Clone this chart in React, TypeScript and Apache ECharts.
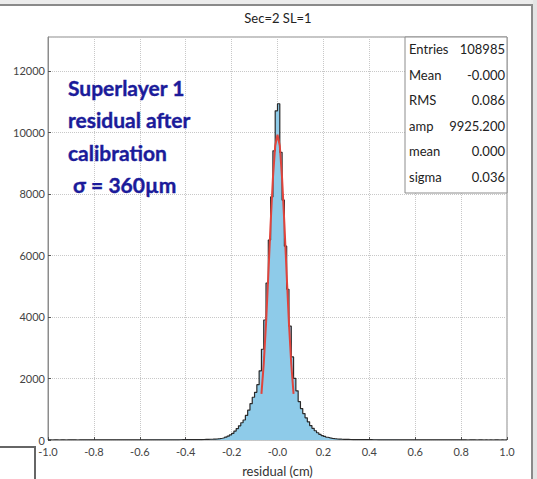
import React, { useEffect, useRef } from "react";
import * as echarts from "echarts";

// ---- data ----
const title = "Sec=2 SL=1";
const xName = "residual (cm)";
const binStart = -1.0;
const binWidth = 0.01;
// counts per bin (200 bins from -1.00 to 1.00)
const countsLeftTail = [
  1, 0, 1, 1, 0, 1, 1, 0, 1, 1, 1, 1, 0, 1, 1, 2, 1, 1, 1, 2,
  1, 2, 1, 2, 2, 1, 2, 2, 3, 2, 2, 3, 2, 3, 3, 3, 4, 3, 4, 4,
  4, 4, 5, 4, 5, 5, 5, 6, 5, 6, 6, 7, 6, 7, 7, 8, 7, 8, 9, 9,
];
const countsCoreLeft = [
  10, 11, 11, 12, 13, 14, 15, 17, 19, 21, 24, 27, 31, 37, 45, 57, 72, 95, 125, 165,
  215, 290, 370, 460, 560, 650, 800, 970, 1180, 1390, 1550, 1800, 2250, 2950, 3900, 5100, 6500, 7900, 9400, 10700,
];
const countsCoreRight = [
  10930, 9350, 7800, 6300, 4900, 3700, 2700, 2000, 1600, 1250, 1020, 860, 720, 590, 470, 380, 300, 235, 180, 145,
  115, 90, 70, 55, 44, 36, 30, 26, 23, 20, 18, 16, 15, 14, 13, 12, 11, 10, 10, 9,
];
const countsRightTail = [
  9, 8, 8, 7, 7, 6, 6, 6, 5, 5, 5, 5, 4, 4, 4, 4, 3, 4, 3, 3,
  3, 3, 2, 3, 2, 2, 2, 2, 2, 1, 2, 1, 2, 1, 1, 1, 2, 1, 1, 1,
  1, 1, 0, 1, 1, 1, 0, 1, 1, 0, 1, 0, 1, 0, 1, 1, 0, 1, 0, 1,
];
const fitX = [-0.07, -0.06, -0.05, -0.04, -0.03, -0.02, -0.01, 0, 0.01, 0.02, 0.03, 0.04, 0.05, 0.06, 0.07];
const fitY = [1500, 2470, 3780, 5370, 7030, 8510, 9560, 9925, 9560, 8510, 7030, 5370, 3780, 2470, 1500];
const statsLabels = ["Entries", "Mean", "RMS", "amp", "mean", "sigma"];
const statsValues = ["108985", "-0.000", "0.086", "9925.200", "0.000", "0.036"];
const noteLines = ["Superlayer 1", "residual after", "calibration", " \u03c3 = 360\u00b5m"];

const FONT = "Lato, 'Open Sans', sans-serif";

export default function App() {
  const ref = useRef<HTMLDivElement>(null);
  useEffect(() => {
    document.body.style.margin = "0";
    if (!ref.current) return;
    const chart = echarts.init(ref.current, undefined, { renderer: "svg" });
    const counts = [...countsLeftTail, ...countsCoreLeft, ...countsCoreRight, ...countsRightTail];
    const histData: number[][] = counts.map((c, i) => [+(binStart + i * binWidth).toFixed(2), c]);
    histData.push([1.0, counts[counts.length - 1]]);
    const fitData = fitX.map((x, i) => [x, fitY[i]]);

    const boxX = 405, boxY = 37, boxW = 102, rowH = 25.5;
    const statsEls: any[] = [
      { type: "rect", z: 20, shape: { x: boxX, y: boxY, width: boxW, height: rowH * 6 + 3 }, style: { fill: "#fff", stroke: "#8c8c8c", lineWidth: 1 } },
    ];
    statsLabels.forEach((l, i) => {
      statsEls.push({ type: "text", z: 21, x: boxX + 4, y: boxY + 12 + i * rowH, style: { text: l, fill: "#222", fontSize: 13, fontFamily: FONT, textAlign: "left", textVerticalAlign: "middle" } });
      statsEls.push({ type: "text", z: 21, x: boxX + boxW - 2, y: boxY + 12 + i * rowH, style: { text: statsValues[i], fill: "#222", fontSize: 13, fontFamily: FONT, textAlign: "right", textVerticalAlign: "middle" } });
    });
    const noteEls = noteLines.map((t, i) => ({
      type: "text", z: 21, x: 68, y: 87 + i * 32.5,
      style: { text: t, fill: "#1b1b9a", fontSize: 21, fontWeight: "bold", fontFamily: FONT, textAlign: "left", textVerticalAlign: "middle", stroke: "#1b1b9a", lineWidth: 0.4 },
    }));

    chart.setOption({
      animation: false,
      backgroundColor: "#ffffff",
      grid: { left: 48, right: 30, top: 37, bottom: 39, show: true, borderColor: "#8c8c8c", borderWidth: 1, outerBoundsMode: "none", containLabel: false },
      xAxis: {
        type: "value", min: -1, max: 1, interval: 0.2,
        axisLine: { show: false, onZero: false },
        axisTick: { show: true, inside: true, length: 3, lineStyle: { color: "#555" } },
        splitLine: { show: true, lineStyle: { type: "dotted", color: "#c8c8c8" } },
        axisLabel: {
          fontSize: 11, color: "#444", fontFamily: FONT, margin: 6,
          formatter: (v: number) => (Math.abs(v) < 1e-9 ? "-0.0" : v.toFixed(1)),
        },
        name: xName, nameLocation: "middle", nameGap: 24,
        nameTextStyle: { fontSize: 13, color: "#333", fontFamily: FONT },
      },
      yAxis: {
        type: "value", min: 0, max: 13100, interval: 2000,
        axisLine: { show: true, onZero: false, lineStyle: { color: "#8c8c8c" } },
        axisTick: { show: true, inside: true, length: 3, lineStyle: { color: "#555" } },
        splitLine: { show: true, lineStyle: { type: "dotted", color: "#c8c8c8" } },
        axisLabel: { fontSize: 11, color: "#444", fontFamily: FONT, margin: 3, showMaxLabel: false, formatter: (v: number) => String(v) },
      },
      series: [
        {
          type: "line", data: histData, step: "end", symbol: "none", z: 2,
          lineStyle: { color: "#2a2a2a", width: 1.2 },
          areaStyle: { color: "#8ecbe9", opacity: 1 },
        },
        {
          type: "line", data: fitData, symbol: "none", z: 3,
          lineStyle: { color: "#e0443c", width: 2 },
        },
      ],
      graphic: [
        { type: "rect", z: 0, shape: { x: 0, y: 0, width: 537, height: 5 }, style: { fill: "#ececec" } },
        { type: "rect", z: 0, shape: { x: 533, y: 0, width: 4, height: 479 }, style: { fill: "#e4e4e4" } },
        { type: "line", z: 1, shape: { x1: 0, y1: 5, x2: 533, y2: 5 }, style: { stroke: "#8a8a8a", lineWidth: 2 } },
        { type: "line", z: 1, shape: { x1: 532, y1: 5, x2: 532, y2: 479 }, style: { stroke: "#8a8a8a", lineWidth: 2 } },
        { type: "polyline", z: 22, shape: { points: [[0, 447], [35, 447], [35, 479]] }, style: { stroke: "#666", lineWidth: 2, fill: null } },
        { type: "text", z: 21, x: 278, y: 18, style: { text: title, fill: "#222", fontSize: 13, fontFamily: FONT, textAlign: "center", textVerticalAlign: "middle" } },
        ...statsEls,
        ...noteEls,
      ],
    });
    return () => chart.dispose();
  }, []);
  return <div ref={ref} style={{ width: 537, height: 479 }} />;
}
